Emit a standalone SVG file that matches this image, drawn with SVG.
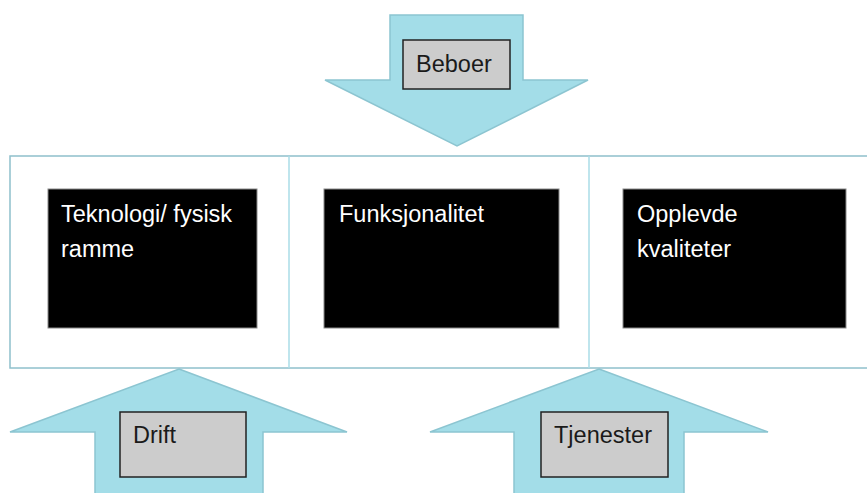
<svg xmlns="http://www.w3.org/2000/svg" width="867" height="493" viewBox="0 0 867 493">
<style>
.arrow{fill:#a3dde8;stroke:#8cc5d1;stroke-width:1.5;stroke-linejoin:miter}
.label{fill:#cccccc;stroke:#222222;stroke-width:1.5}
.dark{fill:#000000;stroke:#8a8a8a;stroke-width:1}
.t{font-family:"Liberation Sans",Arial,sans-serif;font-size:23.5px}
.w{fill:#ffffff}
.k{fill:#1a1a1a}
</style>
<rect width="867" height="493" fill="#ffffff"/>
<g id="frame">
<rect x="10" y="156" width="858" height="212" fill="#ffffff" stroke="#8fc0cc" stroke-width="1.5"/>
<line x1="289" y1="156" x2="289" y2="368" stroke="#aadde7" stroke-width="1.5"/>
<line x1="589" y1="156" x2="589" y2="368" stroke="#aadde7" stroke-width="1.5"/>
</g>
<g id="connectors">
<polygon class="arrow" points="390,15 523,15 523,80 588,80 457,146 325,80 390,80"/>
<polygon class="arrow" points="179,369 347,432 263,432 263,494 95,494 95,432 10,432"/>
<polygon class="arrow" points="599,369 768,432 684,432 684,494 514,494 514,432 430,432"/>
</g>
<g id="beboer">
<rect class="label" x="403" y="40" width="107" height="49"/>
<text class="t k" x="416" y="72">Beboer</text>
</g>
<g id="drift">
<rect class="label" x="120" y="412" width="126" height="65"/>
<text class="t k" x="133" y="443">Drift</text>
</g>
<g id="tjenester">
<rect class="label" x="541" y="412" width="127" height="65"/>
<text class="t k" x="554" y="443">Tjenester</text>
</g>
<g id="teknologi">
<rect class="dark" x="48" y="189" width="209" height="139"/>
<text class="t w" x="61" y="222">Teknologi/ fysisk</text>
<text class="t w" x="61" y="257">ramme</text>
</g>
<g id="funksjonalitet">
<rect class="dark" x="324" y="189" width="235" height="139"/>
<text class="t w" x="339" y="222">Funksjonalitet</text>
</g>
<g id="opplevde">
<rect class="dark" x="623" y="189" width="223" height="139"/>
<text class="t w" x="637" y="222">Opplevde</text>
<text class="t w" x="637" y="257">kvaliteter</text>
</g>
</svg>
